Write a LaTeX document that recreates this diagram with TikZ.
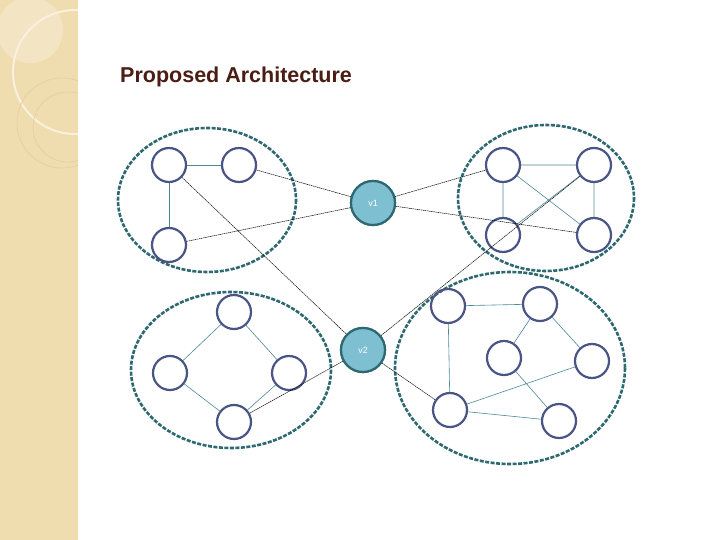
\documentclass[tikz,border=0pt]{standalone}
\usepackage{fontspec}
\setmainfont{Liberation Sans}
\begin{document}
\begin{tikzpicture}[x=1pt,y=-1pt,
  nd/.style={circle,draw=nodeblue,line width=2.2pt,minimum size=34pt,inner sep=0pt},
  vn/.style={circle,draw=vborder,fill=vfill,line width=2.2pt,minimum size=44pt,inner sep=0pt,text=white,font=\fontsize{9}{10}\selectfont},
  cl/.style={draw=clus,line width=2.6pt,dash pattern=on 4pt off 1.5pt},
  ie/.style={draw=edgeteal,line width=0.6pt},
  ce/.style={draw=black,line width=0.5pt,dash pattern=on 1.5pt off 0.6pt}]
\definecolor{nodeblue}{HTML}{4A5585}
\definecolor{clus}{HTML}{2E6870}
\definecolor{vborder}{HTML}{2E6870}
\definecolor{vfill}{HTML}{7FBFD2}
\definecolor{edgeteal}{HTML}{4A8A94}
\definecolor{strip}{HTML}{EFDDB0}
\definecolor{title}{HTML}{4A1E14}
\useasboundingbox (0,0) rectangle (720,540);
\fill[white] (0,0) rectangle (720,540);
\fill[strip] (0,0) rectangle (78,540);
\begin{scope}
\clip (0,0) rectangle (78,540);
\fill[white,opacity=0.25] (30,30) circle (33);
\draw[white!60!strip,line width=2pt] (75,72) circle (62);
\draw[strip!85!brown,line width=0.8pt] (62,123) circle (45);
\draw[strip!85!brown,line width=0.8pt] (68,127) circle (35);
\end{scope}
\node[anchor=west,text=title,font=\bfseries\fontsize{21.5}{24}\selectfont,inner sep=0pt] (t) at (120,77) {Proposed Architecture};
% clusters
\draw[cl] (207,200) ellipse (89 and 72);
\draw[cl] (546,198) ellipse (88 and 73);
\draw[cl] (231,370) ellipse (100 and 78);
\draw[cl] (510,368) ellipse (115 and 96);
% nodes
\node[nd] (a1) at (169,165) {};
\node[nd] (a2) at (239,165) {};
\node[nd] (a3) at (169,245) {};
\node[nd] (b1) at (503,165) {};
\node[nd] (b2) at (594,165) {};
\node[nd] (b3) at (503,235) {};
\node[nd] (b4) at (594,235) {};
\node[nd] (c1) at (234,312) {};
\node[nd] (c2) at (170,373) {};
\node[nd] (c3) at (289,373) {};
\node[nd] (c4) at (234,422) {};
\node[nd] (d1) at (448,306) {};
\node[nd] (d2) at (540,304) {};
\node[nd] (d3) at (504,358) {};
\node[nd] (d4) at (592,361) {};
\node[nd] (d5) at (450,410) {};
\node[nd] (d6) at (559,421) {};
\node[vn] (v1) at (373,203) {v1};
\node[vn] (v2) at (363,350) {v2};
% intra edges
\draw[ie] (a1)--(a2) (a1)--(a3);
\draw[ie] (b1)--(b2) (b1)--(b3) (b1)--(b4) (b3)--(b2) (b2)--(b4);
\draw[ie] (c1)--(c2) (c1)--(c3) (c2)--(c4) (c3)--(c4);
\draw[ie] (d1)--(d2) (d1)--(d5) (d2)--(d3) (d2)--(d4) (d5)--(d4) (d3)--(d6) (d5)--(d6);
% cross edges
\draw[ce] (a2)--(v1.center) (a3)--(v1.center) (v1.center)--(b1) (v1.center)--(b4);
\draw[ce] (a1)--(v2) (v2)--(b2) (v2)--(c4) (v2)--(d5);
\node[vn] at (v1) {v1};
\node[vn] at (v2) {v2};
\end{tikzpicture}
\end{document}
